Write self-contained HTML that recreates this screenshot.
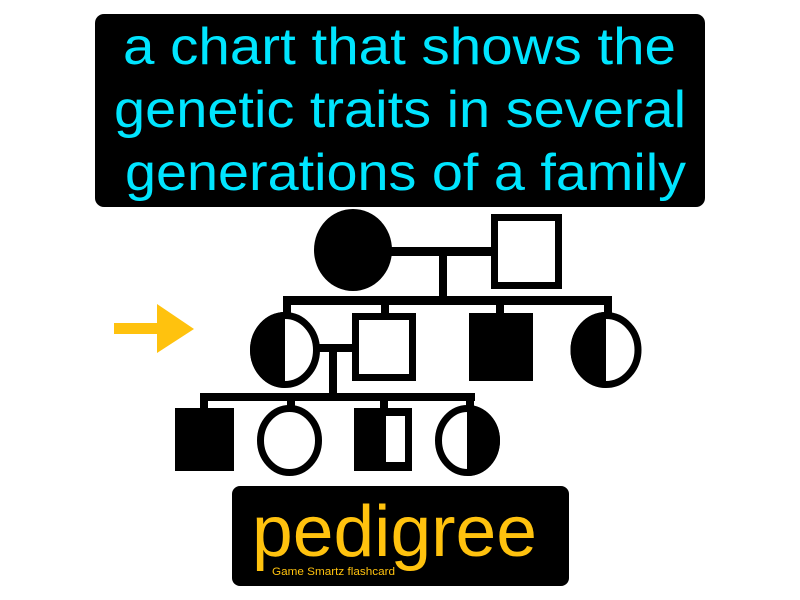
<!DOCTYPE html>
<html><head><meta charset="utf-8"><style>
html,body{margin:0;padding:0;background:#fff;width:800px;height:600px;overflow:hidden}
svg{display:block}
text{font-family:"Liberation Sans",sans-serif}
</style></head><body>
<svg width="800" height="600" viewBox="0 0 800 600">
<rect x="95" y="14" width="610" height="193" rx="9" fill="#000"/>
<g fill="#00e5ff" font-size="52">
<text x="123" y="64" textLength="553" lengthAdjust="spacingAndGlyphs">a chart that shows the</text>
<text x="114" y="127" textLength="572" lengthAdjust="spacingAndGlyphs">genetic traits in several</text>
<text x="125" y="190" textLength="561" lengthAdjust="spacingAndGlyphs">generations of a family</text>
</g>
<defs>
<clipPath id="lh1"><rect x="240" y="300" width="45" height="100"/></clipPath>
<clipPath id="lh2"><rect x="560" y="300" width="46" height="100"/></clipPath>
<clipPath id="rh3"><rect x="467" y="400" width="45" height="90"/></clipPath>
</defs>
<g>
<g fill="#000">
<rect x="390" y="247" width="102" height="9"/>
<rect x="439" y="252" width="8" height="50"/>
<rect x="283" y="296" width="329" height="9"/>
<rect x="283" y="296" width="8" height="20"/>
<rect x="381" y="296" width="8" height="20"/>
<rect x="496" y="296" width="8" height="20"/>
<rect x="604" y="296" width="8" height="20"/>
<rect x="318" y="344" width="36" height="8"/>
<rect x="329" y="346" width="8" height="52"/>
<rect x="200" y="393" width="275" height="8"/>
<rect x="200" y="393" width="8" height="16"/>
<rect x="287" y="393" width="8" height="16"/>
<rect x="380" y="393" width="8" height="16"/>
<rect x="466" y="393" width="8" height="16"/>
</g>
<ellipse cx="353" cy="250" rx="39" ry="41" fill="#000"/>
<rect x="494.5" y="217.5" width="64" height="68" fill="#fff" stroke="#000" stroke-width="7"/>
<g>
<ellipse cx="285" cy="350" rx="31.5" ry="34.5" fill="#fff" stroke="#000" stroke-width="7"/>
<ellipse cx="285" cy="350" rx="35" ry="38" fill="#000" clip-path="url(#lh1)"/>
</g>
<rect x="355.5" y="316.5" width="57" height="61" fill="#fff" stroke="#000" stroke-width="7"/>
<rect x="469" y="313" width="64" height="68" fill="#000"/>
<g>
<ellipse cx="606" cy="350" rx="32" ry="34.5" fill="#fff" stroke="#000" stroke-width="7"/>
<ellipse cx="606" cy="350" rx="35.5" ry="38" fill="#000" clip-path="url(#lh2)"/>
</g>
<rect x="175" y="408" width="59" height="63" fill="#000"/>
<ellipse cx="289.5" cy="440.5" rx="29" ry="32" fill="#fff" stroke="#000" stroke-width="7"/>
<g>
<rect x="354" y="408" width="58" height="63" fill="#000"/>
<rect x="386" y="416" width="19" height="46" fill="#fff"/>
</g>
<g>
<ellipse cx="467.5" cy="440.5" rx="29" ry="32" fill="#fff" stroke="#000" stroke-width="7"/>
<ellipse cx="467.5" cy="440.5" rx="32.5" ry="35.5" fill="#000" clip-path="url(#rh3)"/>
</g>
</g>
<g fill="#ffc20e">
<rect x="114" y="323" width="45" height="11"/>
<polygon points="157,304 194,329 157,353"/>
</g>
<rect x="232" y="486" width="337" height="100" rx="8" fill="#000"/>
<text x="252" y="556" font-size="72" fill="#ffc20e" textLength="285" lengthAdjust="spacingAndGlyphs">pedigree</text>
<text x="272" y="575" font-size="11" fill="#ffc20e" textLength="123" lengthAdjust="spacingAndGlyphs">Game Smartz flashcard</text>
</svg>
</body></html>
